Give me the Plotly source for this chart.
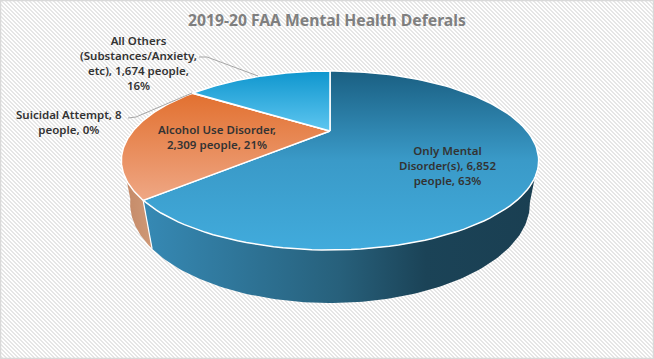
import numpy as np
import plotly.graph_objects as go

# ---- data ----
categories = ["Only Mental Disorder(s)", "Alcohol Use Disorder", "Suicidal Attempt", "All Others (Substances/Anxiety, etc)"]
people = [6852, 2309, 8, 1674]
percent_labels = ["63%", "21%", "0%", "16%"]
title_text = "2019-20 FAA Mental Health Deferals"

# ---- projection of the tilted disc ----
W, H = 654, 359
CX, CY = 330, 131
A, B, K = 197.0, 79.8, 0.3296
DROP, PERSP = 42.2, 0.039


def project(theta, depth=0.0):
    """theta: degrees clockwise from 12 o'clock; depth 0 = top face, 1 = bottom face."""
    t = np.radians(theta)
    u, v = np.sin(t), -np.cos(t)
    w = 1 - K * v + PERSP * depth
    return CX + A * u / w, CY + (B * v + DROP * depth) / w


def arc(a, b, depth=0.0, n=120):
    return project(np.linspace(a, b, n), depth)


total = sum(people)
edges = np.concatenate([[0], np.cumsum(people) / total * 360])

fig = go.Figure()


def wall(a, b, stops, start, stop):
    xt, yt = arc(a, b, 0)
    xb, yb = arc(b, a, 1)
    fig.add_trace(go.Scatter(
        x=np.concatenate([xt, xb]), y=np.concatenate([yt, yb]),
        mode="lines", line=dict(width=0), fill="toself",
        fillgradient=dict(type="horizontal", colorscale=stops, start=start, stop=stop),
        hoverinfo="skip", showlegend=False))


def face(a, b, stops, start, stop, name):
    xa, ya = arc(a, b, 0)
    fig.add_trace(go.Scatter(
        x=np.concatenate([[CX], xa, [CX]]), y=np.concatenate([[CY], ya, [CY]]),
        mode="lines", line=dict(color="#FFFFFF", width=1.5), fill="toself",
        fillgradient=dict(type="vertical", colorscale=stops, start=start, stop=stop),
        name=name, hoverinfo="name", showlegend=False))


# side walls
wall(edges[1], 254, [[0, "#C48A68"], [1, "#D09A78"]], 125, 155)
wall(108, edges[1], [[0, "#3689B4"], [0.5, "#27607B"], [0.72, "#1B4357"], [1, "#1A3F52"]], 145, 535)
# white seam at the front corner of the wall
x0, y0 = project(edges[1], 0)
x1, y1 = project(edges[1], 1)
fig.add_trace(go.Scatter(x=[x0, x1], y=[y0, y1], mode="lines",
                         line=dict(color="#FFFFFF", width=1.2),
                         hoverinfo="skip", showlegend=False))

# top faces
face(0, edges[1], [[0, "#1A5F82"], [0.5, "#3A9AC8"], [1, "#41ABDC"]], 71, 250, categories[0])
face(edges[1], edges[2], [[0, "#E2702F"], [1, "#EFA886"]], 93, 202, categories[1])
face(edges[2], edges[3], [[0, "#E2702F"], [1, "#EFA886"]], 93, 202, categories[2])
face(edges[3], edges[4], [[0, "#0F96CE"], [1, "#5EC6F0"]], 71, 131, categories[3])

# leader lines
fig.add_trace(go.Scatter(x=[199, 207, 258], y=[57, 57, 76], mode="lines",
                         line=dict(color="#A6A6A6", width=1), hoverinfo="skip", showlegend=False))
fig.add_trace(go.Scatter(x=[128, 136, 192], y=[118, 117, 93], mode="lines",
                         line=dict(color="#A6A6A6", width=1), hoverinfo="skip", showlegend=False))

label_font = dict(family="Noto Sans", size=11.5, color="#333333", weight=600)
labels = [
    (447, 165, f"Only Mental<br>Disorder(s), {people[0]:,}<br>people, {percent_labels[0]}"),
    (217, 137, f"Alcohol Use Disorder,<br>{people[1]:,} people, {percent_labels[1]}"),
    (69, 122, f"Suicidal Attempt, {people[2]}<br>people, {percent_labels[2]}"),
    (138, 63, f"All Others<br>(Substances/Anxiety,<br>etc), {people[3]:,} people,<br>{percent_labels[3]}"),
]
annotations = [dict(x=x, y=y, text=t, showarrow=False, xref="x", yref="y",
                    xanchor="center", yanchor="middle", align="center", font=label_font)
               for x, y, t in labels]
annotations.append(dict(x=327, y=20, text=f"<b>{title_text}</b>", showarrow=False, xref="x", yref="y",
                        xanchor="center", yanchor="middle",
                        font=dict(family="Noto Sans", size=15.7, color="#7F7F7F")))

fig.update_layout(
    width=W, height=H, margin=dict(l=0, r=0, t=0, b=0),
    paper_bgcolor="rgba(0,0,0,0)", plot_bgcolor="rgba(0,0,0,0)",
    xaxis=dict(range=[0, W], visible=False, fixedrange=True),
    yaxis=dict(range=[H, 0], visible=False, fixedrange=True),
    annotations=annotations,
    shapes=[dict(type="rect", xref="x", yref="y", x0=0.5, y0=0.5, x1=W - 0.5, y1=H - 0.5,
                 line=dict(color="#D9D9D9", width=1.5))],
    showlegend=False,
)
page_style = (
    "document.body.style.margin='0';document.body.style.overflow='hidden';"
    "document.body.style.background='repeating-linear-gradient(45deg,#FFFFFF 0px,#FFFFFF 1.41421px,#E6E6E6 1.41421px,#E6E6E6 2.82843px)';"
)
fig.write_html("out.html", config={"displayModeBar": False}, post_script=page_style)
